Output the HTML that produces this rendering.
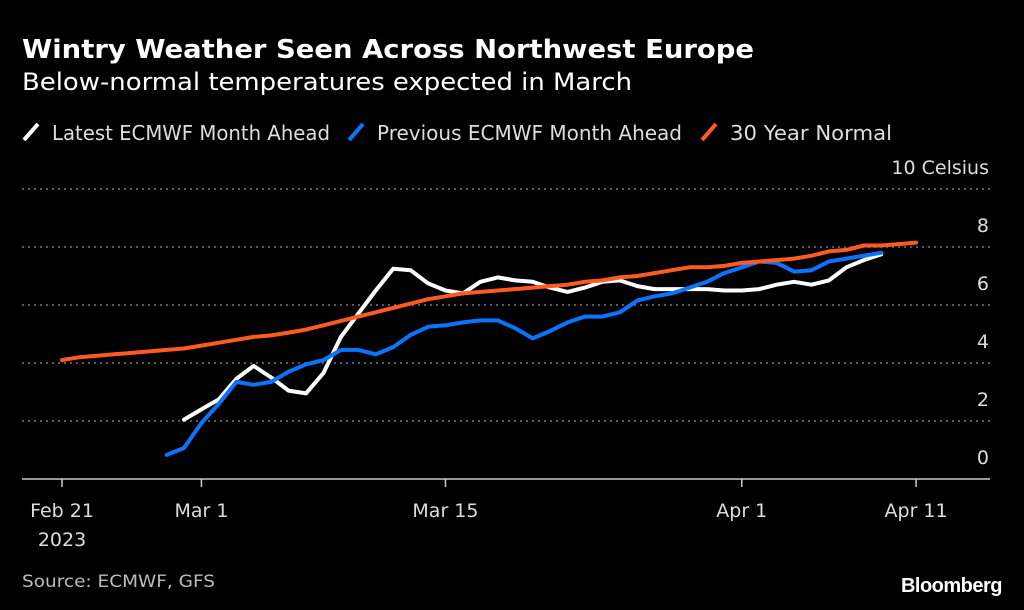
<!DOCTYPE html>
<html><head><meta charset="utf-8"><style>
body{margin:0;background:#000;width:1024px;height:610px;overflow:hidden;font-family:"DejaVu Sans",sans-serif;color:#fff}
svg{position:absolute;left:0;top:0;font-family:"DejaVu Sans",sans-serif}
</style></head><body>
<svg width="1024" height="610" id="svg">
<text x="22" y="58" font-size="26" font-weight="bold" fill="#fff" textLength="732" lengthAdjust="spacingAndGlyphs">Wintry Weather Seen Across Northwest Europe</text>
<text x="22" y="90" font-size="24" fill="#fff" textLength="610" lengthAdjust="spacingAndGlyphs">Below-normal temperatures expected in March</text>
<g font-size="20" fill="#ddd">
<line x1="24" y1="140" x2="38" y2="124" stroke="#fff" stroke-width="4"/>
<text x="52" y="140" textLength="278" lengthAdjust="spacingAndGlyphs">Latest ECMWF Month Ahead</text>
<line x1="349" y1="140" x2="363" y2="124" stroke="#0a74ff" stroke-width="4"/>
<text x="377" y="140" textLength="305" lengthAdjust="spacingAndGlyphs">Previous ECMWF Month Ahead</text>
<line x1="702" y1="140" x2="716" y2="124" stroke="#ff5a1f" stroke-width="4"/>
<text x="730" y="140" textLength="162" lengthAdjust="spacingAndGlyphs">30 Year Normal</text>
</g>
<g id="grid"></g><g id="series"></g>
<text x="22" y="587" font-size="17" fill="#bbb" textLength="193" lengthAdjust="spacingAndGlyphs">Source: ECMWF, GFS</text>
<text x="1002" y="592" font-size="20" font-weight="bold" fill="#fff" text-anchor="end" font-family="Liberation Sans" letter-spacing="-0.5">Bloomberg</text>
</svg>
<script>
const yTicks=[0,2,4,6,8,10];
const xTickDays=[0,8,22,39,49];
const xTickLabels=["Feb 21","Mar 1","Mar 15","Apr 1","Apr 11"];
const normalStart=0;
const normalVals=[4.1,4.2,4.25,4.3,4.35,4.4,4.45,4.5,4.6,4.7,4.8,4.9,4.95,5.05,5.15,5.3,5.45,5.6,5.75,5.9,6.05,6.2,6.3,6.4,6.45,6.5,6.55,6.6,6.65,6.7,6.8,6.85,6.95,7.0,7.1,7.2,7.3,7.3,7.35,7.45,7.5,7.55,7.6,7.7,7.85,7.9,8.05,8.05,8.1,8.15];
const latestStart=7;
const latestVals=[2.05,2.4,2.75,3.45,3.9,3.5,3.05,2.95,3.65,4.9,5.7,6.5,7.25,7.2,6.75,6.5,6.4,6.8,6.95,6.85,6.8,6.6,6.45,6.6,6.8,6.85,6.65,6.55,6.55,6.55,6.55,6.5,6.5,6.55,6.7,6.8,6.7,6.85,7.3,7.55,7.75];
const prevStart=6;
const prevVals=[0.83,1.07,1.93,2.6,3.35,3.25,3.35,3.7,3.95,4.1,4.45,4.45,4.3,4.55,4.97,5.25,5.3,5.4,5.47,5.47,5.2,4.85,5.1,5.4,5.6,5.6,5.75,6.15,6.3,6.4,6.6,6.8,7.1,7.3,7.5,7.45,7.15,7.2,7.5,7.6,7.7,7.8];
const X=d=>62+d*17.43, Y=v=>479-29*v;
const NS="http://www.w3.org/2000/svg";
const grid=document.getElementById('grid'),ser=document.getElementById('series');
function mk(t,a,p){const e=document.createElementNS(NS,t);for(const k in a)e.setAttribute(k,a[k]);p.appendChild(e);return e;}
yTicks.forEach(v=>{
 if(v>0){const l=mk('line',{x1:22,x2:990,y1:Y(v),y2:Y(v),stroke:'#777','stroke-width':1.5,'stroke-dasharray':'2,4'},grid);
 
 }
 const t=mk('text',{x:989,y:Y(v)-15,'font-size':19,fill:'#ddd','text-anchor':'end'},grid);
 t.textContent=v===10?'10 Celsius':String(v);
 
 
});
const ax=mk('line',{x1:22,x2:990,y1:479,y2:479,stroke:'#ccc','stroke-width':1.5},grid);


xTickDays.forEach((d,i)=>{
 const tk=mk('line',{x1:X(d),x2:X(d),y1:479,y2:487,stroke:'#ccc','stroke-width':1.5},grid);
 
 
 const t=mk('text',{x:X(d),y:517,'font-size':19,fill:'#ddd','text-anchor':'middle'},grid);
 t.textContent=xTickLabels[i];
 
 
});
const yr=mk('text',{x:X(0),y:546,'font-size':19,fill:'#ddd','text-anchor':'middle'},grid);
yr.textContent='2023';


function line(start,vals,col,name){
 const pts=vals.map((v,i)=>X(start+i).toFixed(1)+','+Y(v).toFixed(1)).join(' ');
 const p=mk('polyline',{points:pts,fill:'none',stroke:col,'stroke-width':4,'stroke-linejoin':'round','stroke-linecap':'round'},ser);
 
 
}
line(latestStart,latestVals,'#ffffff','series-latest-ecmwf');
line(prevStart,prevVals,'#0a74ff','series-previous-ecmwf');
line(normalStart,normalVals,'#ff5a1f','series-30-year-normal');
</script>
</body></html>
